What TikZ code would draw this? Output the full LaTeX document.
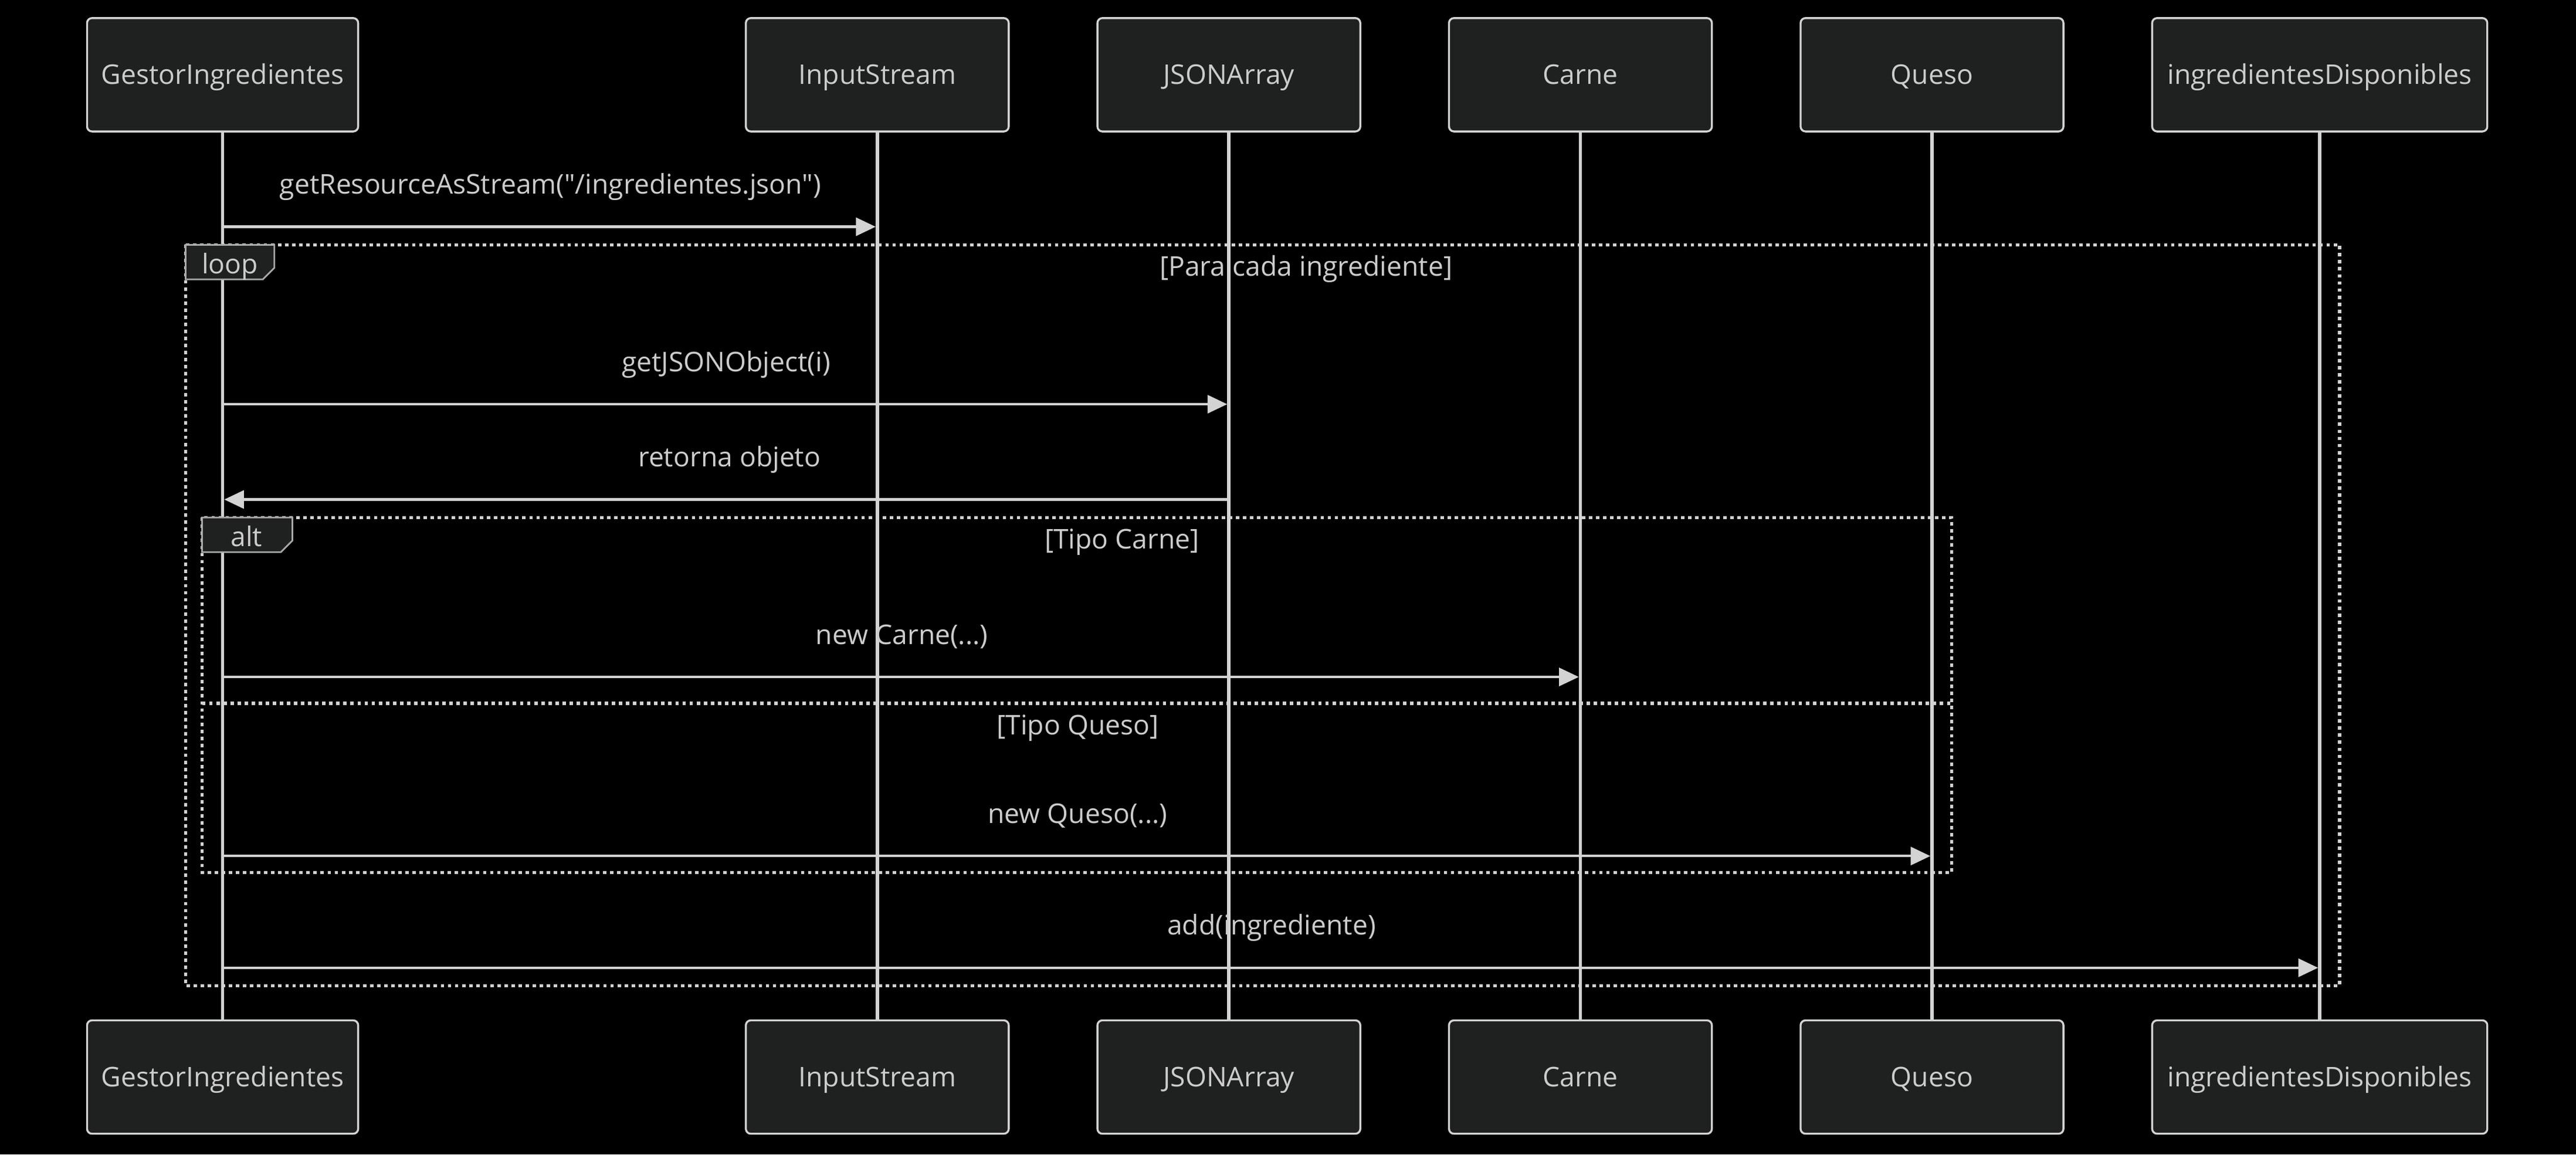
\documentclass[tikz,border=0pt]{standalone}
\usepackage{fontspec}
\newfontfamily\mainf{Open Sans}
\usetikzlibrary{arrows.meta}
\definecolor{fg}{HTML}{CCCCCC}
\definecolor{ln}{HTML}{D3D3D3}
\definecolor{tabline}{HTML}{A8A8A8}
\definecolor{boxfill}{HTML}{1F2020}
\begin{document}
\begin{tikzpicture}[x=1pt,y=-1pt,
  font=\mainf\fontsize{16.5}{19}\selectfont,
  actor/.style={draw=ln, fill=boxfill, rounded corners=3pt, line width=1.2pt,
     minimum height=69pt, text=fg, inner sep=0pt},
  lifeline/.style={draw=ln, line width=2pt},
  msg/.style={draw=ln, line width=1.5pt, shorten >=1pt, -{Triangle[length=12pt,width=11pt]}},
  msgtext/.style={text=fg, inner sep=0pt, anchor=base},
  frame/.style={draw=ln, line width=2pt, dash pattern=on 2.1pt off 2.2pt},
  tab/.style={draw=tabline, fill=boxfill, line width=1pt},
]
\useasboundingbox (0,0) rectangle (1568,702.6);
\fill[black] (0,0) rectangle (1568,702.6);

% top participants
\node[actor, minimum width=165pt] (gA) at (135.5,45.5) {};
\node[actor, minimum width=160pt] (iA) at (534,45.5) {};
\node[actor, minimum width=160pt] (jA) at (748,45.5) {};
\node[actor, minimum width=160pt] (cA) at (962,45.5) {};
\node[actor, minimum width=160pt] (qA) at (1176,45.5) {};
\node[actor, minimum width=204pt] (dA) at (1412,45.5) {};
% bottom participants
\node[actor, minimum width=165pt] (gB) at (135.5,655.5) {};
\node[actor, minimum width=160pt] (iB) at (534,655.5) {};
\node[actor, minimum width=160pt] (jB) at (748,655.5) {};
\node[actor, minimum width=160pt] (cB) at (962,655.5) {};
\node[actor, minimum width=160pt] (qB) at (1176,655.5) {};
\node[actor, minimum width=204pt] (dB) at (1412,655.5) {};

% participant names
\foreach \p/\t in {g/GestorIngredientes,i/InputStream,j/JSONArray,c/Carne,q/Queso,d/ingredientesDisponibles}{
  \node[msgtext] (\p An) at ([yshift=-5.9pt]\p A.center) {\t};
  \node[msgtext] (\p Bn) at ([yshift=-5.9pt]\p B.center) {\t};
}

% lifelines
\foreach \p in {g,i,j,c,q,d}{
  \draw[lifeline] (\p A.south) -- (\p B.north);
}

% loop frame
\draw[frame] (113,149) rectangle (1424,600);
\draw[tab] (113,149) -- (167,149) -- (167,163) -- (160,170) -- (113,170) -- cycle;
\node[msgtext] (looplbl) at (140,166.5) {loop};
\node[msgtext] (loopcond) at (795,168) {[Para cada ingrediente]};

% alt frame
\draw[frame] (123,315) rectangle (1188,531);
\draw[frame] (123,428) -- (1188,428);
\draw[tab] (123,315) -- (178,315) -- (178,329) -- (171,336) -- (123,336) -- cycle;
\node[msgtext] (altlbl) at (150,332.5) {alt};
\node[msgtext] (altcond1) at (683,334) {[Tipo Carne]};
\node[msgtext] (altcond2) at (656,447) {[Tipo Queso]};

% messages
\draw[msg] (gA |- 0,138) -- (iA |- 0,138);
\node[msgtext] (t1) at (335,118) {getResourceAsStream("/ingredientes.json")};

\draw[msg] (gA |- 0,246) -- (jA |- 0,246);
\node[msgtext] (t2) at (442,226) {getJSONObject(i)};

\draw[msg] (jA |- 0,304) -- (gA |- 0,304);
\node[msgtext] (t3) at (444,284) {retorna objeto};

\draw[msg] (gA |- 0,412) -- (cA |- 0,412);
\node[msgtext] (t4) at (549,392) {new Carne(...)};

\draw[msg] (gA |- 0,521) -- (qA |- 0,521);
\node[msgtext] (t5) at (656,501) {new Queso(...)};

\draw[msg] (gA |- 0,589) -- (dA |- 0,589);
\node[msgtext] (t6) at (774,569) {add(ingrediente)};
\end{tikzpicture}
\end{document}
